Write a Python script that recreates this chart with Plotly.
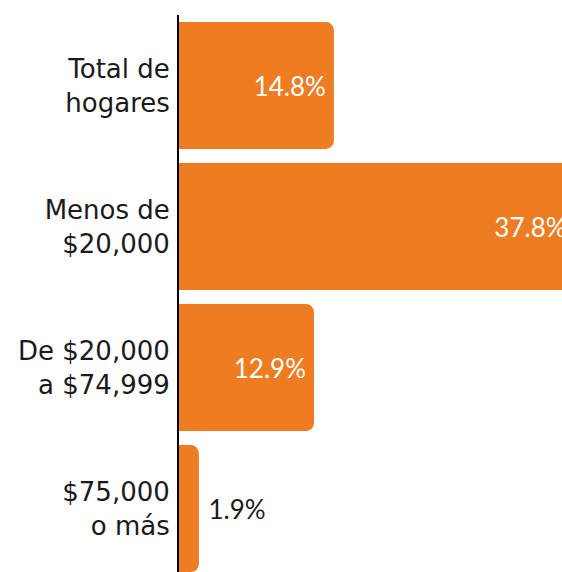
import plotly.graph_objects as go

categories = ["Total de<br>hogares", "Menos de<br>$20,000", "De $20,000<br>a $74,999", "$75,000<br>o más"]
values = [14.8, 37.8, 12.9, 1.9]
labels = ["14.8%", "37.8%", "12.9%", "\u00a01.9%"]

ORANGE = "#EE7C23"
LABEL_FONT = "Lato, 'Open Sans', sans-serif"
TICK_FONT = "'DejaVu Sans', sans-serif"

fig = go.Figure(go.Bar(
    x=values,
    y=categories,
    orientation="h",
    marker=dict(color=ORANGE, line=dict(width=0)),
    text=labels,
    textposition=["inside", "inside", "inside", "outside"],
    insidetextanchor="end",
    insidetextfont=dict(color="white", size=26, family=LABEL_FONT),
    outsidetextfont=dict(color="#1a1a1a", size=26, family=LABEL_FONT),
    cliponaxis=True,
    hoverinfo="skip",
))

fig.update_layout(
    width=562,
    height=572,
    margin=dict(l=179, r=0, t=15, b=0, autoexpand=False),
    paper_bgcolor="white",
    plot_bgcolor="white",
    bargap=0.1,
    barcornerradius=8,
    showlegend=False,
    font=dict(family=LABEL_FONT, size=24, color="#1a1a1a"),
)
fig.update_xaxes(range=[0, 36.6], visible=False, fixedrange=True)
fig.update_yaxes(
    categoryorder="array",
    categoryarray=categories,
    range=[3.45, -0.5],
    showline=True,
    linecolor="black",
    linewidth=2,
    ticks="outside",
    ticklen=2,
    tickcolor="rgba(0,0,0,0)",
    showgrid=False,
    zeroline=False,
    automargin=False,
    tickfont=dict(size=26, family=TICK_FONT, color="#1a1a1a"),
    fixedrange=True,
)

fig.write_html(
    "out.html",
    config={"displayModeBar": False},
    post_script="document.body.style.margin='0';document.body.style.overflow='hidden';",
)
